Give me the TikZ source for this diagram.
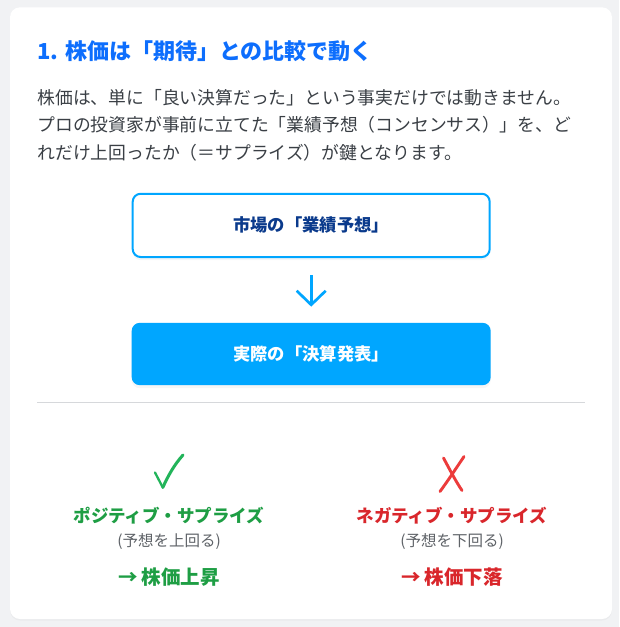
\documentclass[tikz,border=0pt]{standalone}
\usepackage{fontspec}
\setmainfont{Noto Sans CJK JP}
\usetikzlibrary{arrows.meta,positioning,shadows}

\definecolor{pagebg}{HTML}{F1F2F4}
\definecolor{titleblue}{HTML}{0D6EFD}
\definecolor{bodygray}{HTML}{3A3F45}
\definecolor{skyblue}{HTML}{00A6FF}
\definecolor{navy}{HTML}{0A3A8C}
\definecolor{rulegray}{HTML}{D6D8DB}
\definecolor{posgreen}{HTML}{1E9E44}
\definecolor{checkgreen}{HTML}{22B45A}
\definecolor{negred}{HTML}{D9262B}
\definecolor{crossred}{HTML}{EC3B3B}
\definecolor{subgray}{HTML}{5F6368}

\tikzset{
  txt/.style={anchor=base west, inner sep=0pt},
  planbox/.style={draw=skyblue, line width=2pt, fill=white, rounded corners=8pt,
    minimum width=357pt, minimum height=63.3pt, text=navy,
    drop shadow={opacity=0.07, shadow xshift=0pt, shadow yshift=-3pt},
    font=\bfseries\fontsize{17.3}{20}\selectfont},
  actualbox/.style={fill=skyblue, rounded corners=8pt, minimum width=359pt,
    minimum height=62.3pt, text=white,
    drop shadow={opacity=0.07, shadow xshift=0pt, shadow yshift=-3pt},
    font=\bfseries\fontsize{17.3}{20}\selectfont},
  flowarrow/.style={skyblue, line width=2.7pt, -{Straight Barb[length=14pt, width=29pt]},
    shorten <=17pt, shorten >=16pt},
  headlbl/.style={anchor=base, inner sep=0pt, font=\bfseries\fontsize{17.5}{20}\selectfont},
  sublbl/.style={anchor=base, inner sep=0pt, text=subgray, font=\fontsize{15.5}{18}\selectfont},
  reslbl/.style={anchor=base, inner sep=0pt, font=\bfseries\fontsize{19.5}{22}\selectfont}
}

\begin{document}
\begin{tikzpicture}[x=1pt, y=-1pt]

  \fill[pagebg] (0,0) rectangle (619,627);
  \useasboundingbox (0,0) rectangle (619,627);
  \fill[white, rounded corners=10pt, drop shadow={opacity=0.06, shadow xshift=0pt, shadow yshift=-1.5pt}]
    (10,7.3) rectangle (612,619);

  % heading and text
  \node[txt, text=titleblue, font=\bfseries\fontsize{22}{26}\selectfont] (title) at (37,59.4)
    {1. 株価は「期待」との比較で動く};
  \foreach \y/\line [count=\i] in {104.5/{株価は、単に「良い決算だった」という事実だけでは動きません。},
      131.8/{プロの投資家が事前に立てた「業績予想（コンセンサス）」を、ど},
      159.1/{れだけ上回ったか（＝サプライズ）が鍵となります。}} {
    \node[txt, text=bodygray, font=\fontsize{17.8}{27}\selectfont] (body\i) at (37.3,\y) {\line};
  }

  % flow
  \node[planbox] (expect) at (311.2,225.4) {市場の「業績予想」};
  \node[actualbox, below=64.6pt of expect] (actual) {実際の「決算発表」};
  \draw[flowarrow] (expect) -- (actual);

  \draw[rulegray, line width=1pt] (37,402.7) -- (585,402.7);

  % marks
  \draw[checkgreen, line width=2.3pt, line cap=round, line join=round]
    (155,472.5) -- (162.8,487.5);
  \draw[checkgreen, line width=3pt, line cap=round]
    (162.8,487.5) .. controls (168,476) and (174,465) .. (183,455);
  \draw[crossred, line width=2.9pt, line cap=round]
    (443.5,458) .. controls (450,470) and (455,480) .. (462,490.5);
  \draw[crossred, line width=2.9pt, line cap=round]
    (464,456.5) .. controls (455,470) and (447,482) .. (440,491.5);

  \foreach \x/\c/\head/\sub/\res/\n in {169/posgreen/{ポジティブ・サプライズ}/{(予想を上回る)}/{→ 株価上昇}/pos,
      452/negred/{ネガティブ・サプライズ}/{(予想を下回る)}/{→ 株価下落}/neg} {
    \node[headlbl, text=\c] (head\n) at (\x,522.5) {\head};
    \node[sublbl] (sub\n) at (\x,546.9) {\sub};
    \node[reslbl, text=\c] (res\n) at (\x,584.4) {\res};
  }

\end{tikzpicture}
\end{document}
